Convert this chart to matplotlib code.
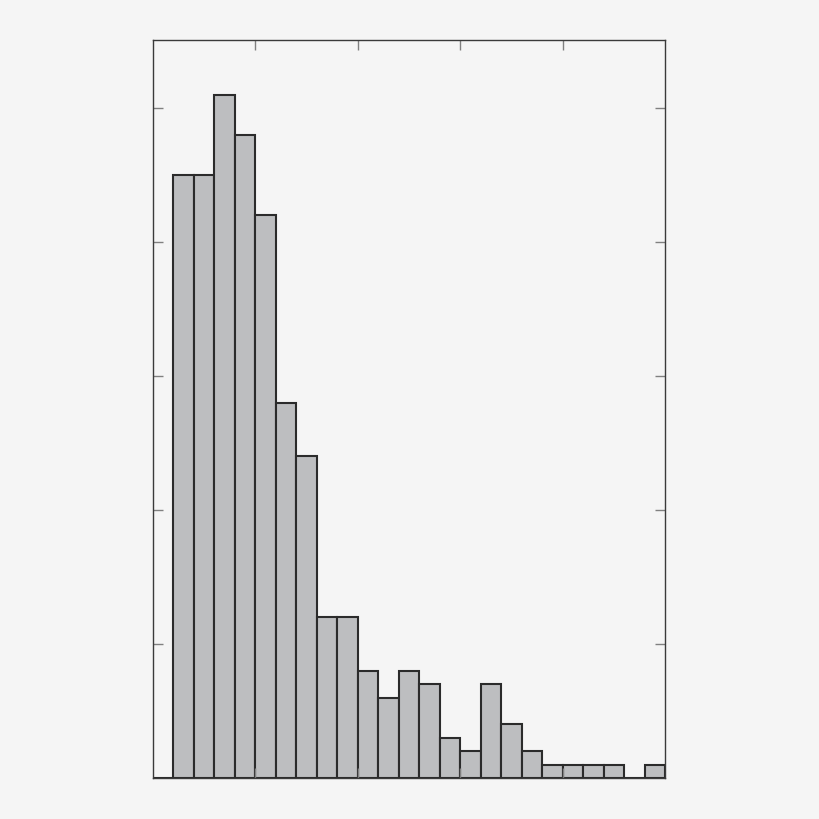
import matplotlib
matplotlib.use("Agg")
import matplotlib.pyplot as plt
import numpy as np

# Histogram bin counts (25 bins of unit width, bins 0..24)
bin_edges = list(range(0, 26))
counts = [0, 45, 45, 51, 48, 42, 28, 24, 12, 12, 8, 6, 8, 7, 3, 2, 7, 4, 2, 1, 1, 1, 1, 0, 1]
x_ticks = [5, 10, 15, 20]
y_ticks = [10, 20, 30, 40, 50]

bg = "#f5f5f5"
fig = plt.figure(figsize=(8.2, 8.19), dpi=100, facecolor=bg)
ax = fig.add_axes([153/820, 1-778/819, 512/820, 738/819])
ax.set_facecolor(bg)

lefts = np.array(bin_edges[:-1])
ax.bar(lefts, counts, width=1.0, align="edge", color="#bdbec0",
       edgecolor="#2b2b2b", linewidth=1.5)

ax.set_xlim(0, 25)
ax.set_ylim(0, 55.07)
ax.set_xticks(x_ticks)
ax.set_yticks(y_ticks)
ax.set_xticklabels([])
ax.set_yticklabels([])
ax.tick_params(direction="in", length=7.5, width=1.0, color="#808080",
               top=True, right=True, bottom=True, left=True)
for s in ax.spines.values():
    s.set_color("#3a3a3a")
    s.set_linewidth(1.0)

fig.savefig("out.png", dpi=100, facecolor=bg)
